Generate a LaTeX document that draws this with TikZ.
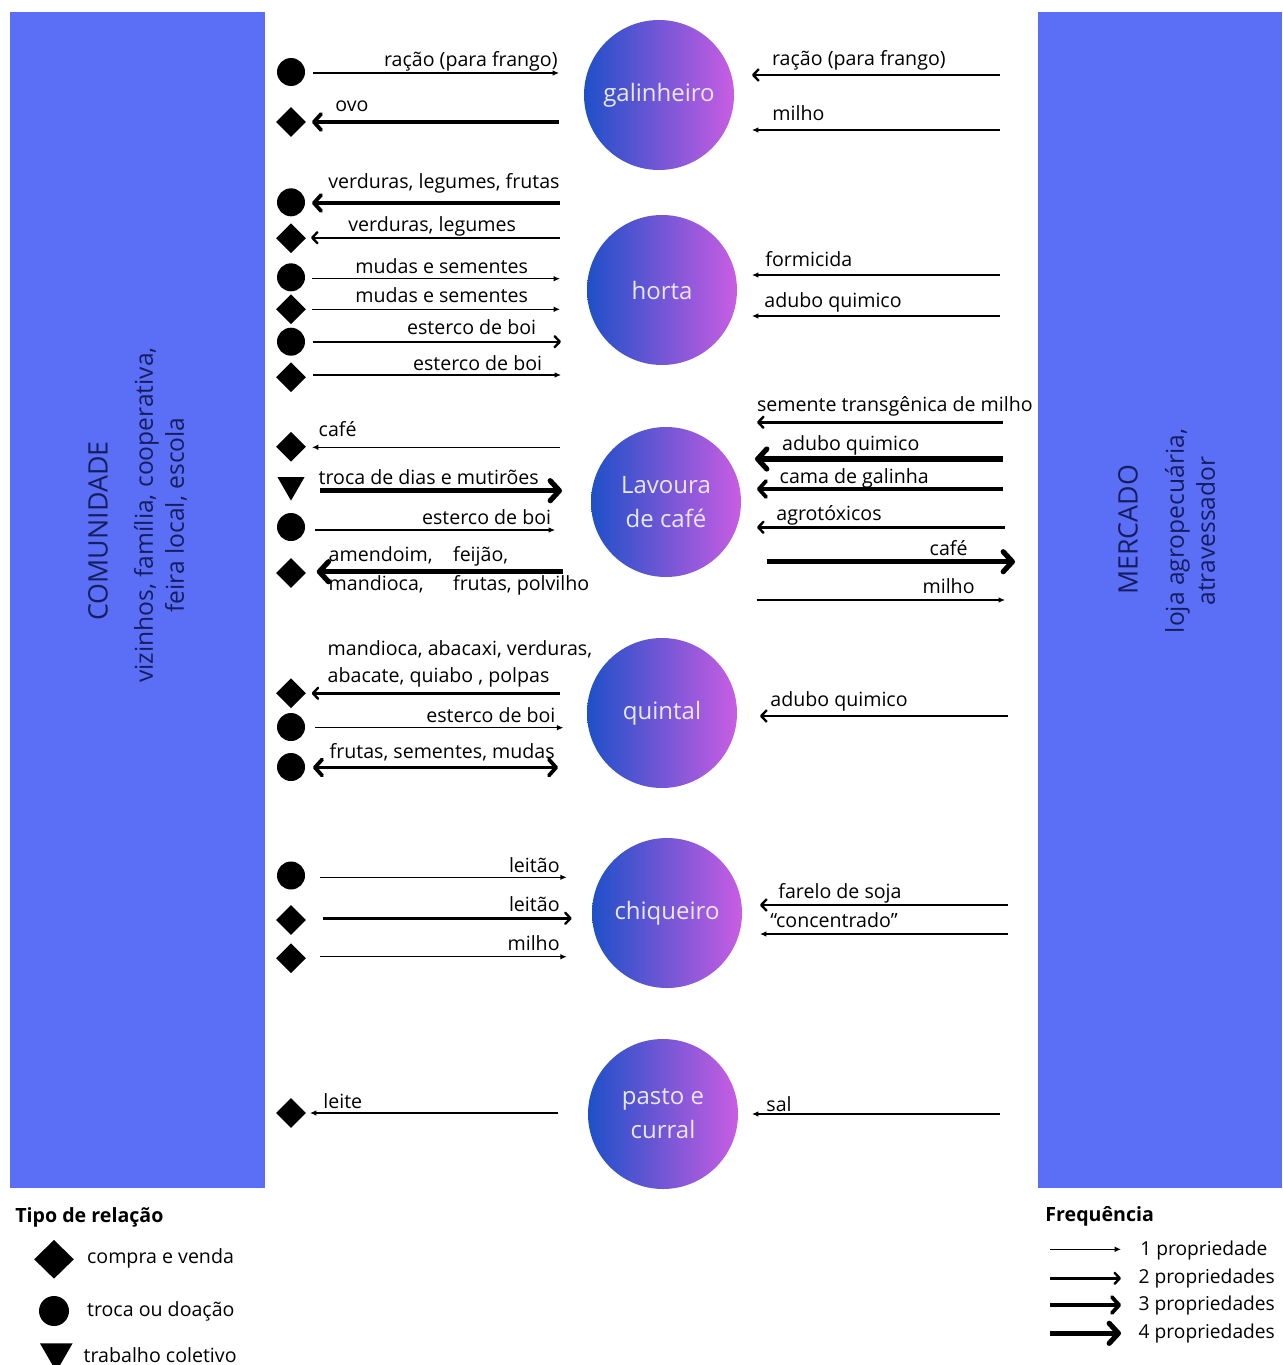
\documentclass[tikz,border=0pt]{standalone}
\usepackage{fontspec}
\setmainfont{Open Sans}
\usetikzlibrary{arrows.meta,shapes.geometric}
\definecolor{barblue}{HTML}{5A6FF6}
\definecolor{bartext}{HTML}{151D5E}
\definecolor{farmblue}{HTML}{1E50C8}
\definecolor{farmpink}{HTML}{C95DE3}
\definecolor{farmtext}{HTML}{E9E7FB}

\tikzset{
  lbl/.style={font=\fontsize{9.8}{14}\selectfont, inner sep=0pt, align=left},
  head/.style={font=\bfseries\fontsize{9.8}{14}\selectfont, inner sep=0pt},
  farm/.style={circle, minimum size=75pt, inner sep=0pt, left color=farmblue, right color=farmpink,
    text=farmtext, align=center, font=\fontsize{12}{17}\selectfont},
  cv/.style={diamond, fill=black, inner sep=0pt, minimum width=15pt, minimum height=15pt},
  td/.style={circle, fill=black, inner sep=0pt, minimum size=14pt},
  tc/.style={regular polygon, regular polygon sides=3, shape border rotate=180, fill=black,
    inner sep=0pt, minimum size=15.6pt},
  f1/.style={line width=0.55pt, >={Latex[length=3.2pt,width=2.8pt]}},
  f2/.style={line width=1.2pt, >={Straight Barb[length=2.6pt,width=5.5pt,round]}},
  f3/.style={line width=1.9pt, >={Straight Barb[length=3.6pt,width=8pt,round]}},
  f4/.style={line width=2.6pt, >={Straight Barb[length=4.6pt,width=10pt,round]}},
}

\begin{document}
\begin{tikzpicture}[x=0.5pt,y=-0.5pt]
\useasboundingbox (0,0) rectangle (1282,1365);

% comunidade / mercado
\fill[barblue] (10,12) rectangle (265,1188);
\fill[barblue] (1038,12) rectangle (1282,1188);
\node[rotate=90, text=bartext, font=\fontsize{13.4}{16}\selectfont] (com) at (98,531) {COMUNIDADE};
\node[rotate=90, text=bartext, align=center, font=\fontsize{12.3}{15.5}\selectfont] (comsub) at (160.5,515) {vizinhos, família, cooperativa,\\feira local, escola};
\node[rotate=90, text=bartext, font=\fontsize{13.4}{16}\selectfont] (mer) at (1128,530) {MERCADO};
\node[rotate=90, text=bartext, align=center, font=\fontsize{12.3}{15.5}\selectfont] (mersub) at (1190,531) {loja agropecuária,\\atravessador};

% subsistemas
\node[farm] (gal) at (659,95) {galinheiro};
\node[farm] (hor) at (662,290) {horta};
\node[farm] (lav) at (666,502) {Lavoura\\de café};
\node[farm] (qui) at (662,713) {quintal};
\node[farm] (chi) at (667,913) {chiqueiro};
\node[farm] (pas) at (663,1114) {pasto e\\curral};

% galinheiro
\node[td] (g1m) at (291,72) {};
\coordinate (g1s) at (313,73); \coordinate (g1e) at (559,73); \draw[f1,->] (g1s) -- (g1e);
\node[lbl,anchor=base east] (g1t) at (558,66.7) {ração (para frango)};
\node[cv] (g2m) at (291,122) {};
\coordinate (g2s) at (312,122); \coordinate (g2e) at (559,122); \draw[f3,<-] (g2s) -- (g2e);
\node[lbl,anchor=base west] (g2t) at (335,111.7) {ovo};
\coordinate (g3s) at (752,75); \coordinate (g3e) at (1000,75); \draw[f2,<-] (g3s) -- (g3e);
\node[lbl,anchor=base west] (g3t) at (771.7,65) {ração (para frango)};
\coordinate (g4s) at (752,130); \coordinate (g4e) at (1000,130); \draw[f1,<-] (g4s) -- (g4e);
\node[lbl,anchor=base west] (g4t) at (772,120) {milho};

% horta
\node[td] (h1m) at (291,202.3) {};
\coordinate (h1s) at (312,203); \coordinate (h1e) at (560,203); \draw[f3,<-] (h1s) -- (h1e);
\node[lbl,anchor=base east] (h1t) at (560,188.3) {verduras, legumes, frutas};
\node[cv] (h2m) at (291,238.3) {};
\coordinate (h2s) at (311,237.7); \coordinate (h2e) at (560,237.7); \draw[f2,<-] (h2s) -- (h2e);
\node[lbl,anchor=base west] (h2t) at (348,231.7) {verduras, legumes};
\node[td] (h3m) at (291,277.3) {};
\coordinate (h3s) at (312,278.7); \coordinate (h3e) at (560,278.7); \draw[f1,->] (h3s) -- (h3e);
\node[lbl,anchor=base west] (h3t) at (355,273.3) {mudas e sementes};
\node[cv] (h4m) at (291,309.3) {};
\coordinate (h4s) at (312,309.3); \coordinate (h4e) at (560,309.3); \draw[f1,->] (h4s) -- (h4e);
\node[lbl,anchor=base west] (h4t) at (355,302.7) {mudas e sementes};
\node[td] (h5m) at (291,341.7) {};
\coordinate (h5s) at (313,341.7); \coordinate (h5e) at (561,341.7); \draw[f2,->] (h5s) -- (h5e);
\node[lbl,anchor=base west] (h5t) at (406.7,334) {esterco de boi};
\node[cv] (h6m) at (291,377.3) {};
\coordinate (h6s) at (313,375); \coordinate (h6e) at (561,375); \draw[f1,->] (h6s) -- (h6e);
\node[lbl,anchor=base west] (h6t) at (412.7,370) {esterco de boi};
\coordinate (h7s) at (752,275); \coordinate (h7e) at (1000,275); \draw[f1,<-] (h7s) -- (h7e);
\node[lbl,anchor=base west] (h7t) at (765,266) {formicida};
\coordinate (h8s) at (752,316); \coordinate (h8e) at (1000,316); \draw[f1,<-] (h8s) -- (h8e);
\node[lbl,anchor=base west] (h8t) at (764,307) {adubo quimico};

% lavoura de cafe
\node[cv] (l1m) at (291,446.7) {};
\coordinate (l1s) at (312,447.3); \coordinate (l1e) at (560,447.3); \draw[f1,<-] (l1s) -- (l1e);
\node[lbl,anchor=base west] (l1t) at (318.3,436) {café};
\node[tc] (l2m) at (291,485) {};
\coordinate (l2s) at (320,490.7); \coordinate (l2e) at (562,490.7); \draw[f4,->] (l2s) -- (l2e);
\node[lbl,anchor=base west] (l2t) at (318.3,484) {troca de dias e mutirões};
\node[td] (l3m) at (291,527) {};
\coordinate (l3s) at (315,530); \coordinate (l3e) at (555,530); \draw[f1,->] (l3s) -- (l3e);
\node[lbl,anchor=base west] (l3t) at (421.7,524) {esterco de boi};
\node[cv] (l4m) at (291,573) {};
\coordinate (l4s) at (316.7,571.7); \coordinate (l4e) at (562.7,571.7); \draw[f4,<-] (l4s) -- (l4e);
\node[lbl,anchor=base west] (l4t) at (328.3,590) {amendoim,\\[0.2pt]mandioca,};
\node[lbl,anchor=base west] (l4u) at (452.7,590) {feijão,\\[0.2pt]frutas, polvilho};
\coordinate (l5s) at (757,422.3); \coordinate (l5e) at (1003,422.3); \draw[f2,<-] (l5s) -- (l5e);
\node[lbl,anchor=base west] (l5t) at (756.7,411.7) {semente transgênica de milho};
\coordinate (l6s) at (755,459); \coordinate (l6e) at (1003,459); \draw[f4,<-] (l6s) -- (l6e);
\node[lbl,anchor=base west] (l6t) at (781.7,450) {adubo quimico};
\coordinate (l7s) at (757,489); \coordinate (l7e) at (1003,489); \draw[f3,<-] (l7s) -- (l7e);
\node[lbl,anchor=base west] (l7t) at (779.3,483.3) {cama de galinha};
\coordinate (l8s) at (757,527.3); \coordinate (l8e) at (1005,527.3); \draw[f2,<-] (l8s) -- (l8e);
\node[lbl,anchor=base west] (l8t) at (776,520) {agrotóxicos};
\coordinate (l9s) at (766.7,561.7); \coordinate (l9e) at (1015,561.7); \draw[f4,->] (l9s) -- (l9e);
\node[lbl,anchor=base east] (l9t) at (968,555) {café};
\coordinate (l10s) at (756.7,600); \coordinate (l10e) at (1005,600); \draw[f1,->] (l10s) -- (l10e);
\node[lbl,anchor=base east] (l10t) at (975,593.3) {milho};

% quintal
\node[cv] (q1m) at (291,693.3) {};
\coordinate (q1s) at (311.7,693.3); \coordinate (q1e) at (560,693.3); \draw[f2,<-] (q1s) -- (q1e);
\node[lbl,anchor=base west] (q1t) at (327.3,682.7) {mandioca, abacaxi, verduras,\\[-0.6pt]abacate, quiabo , polpas};
\node[td] (q2m) at (291,727) {};
\coordinate (q2s) at (315,727.7); \coordinate (q2e) at (563.3,727.7); \draw[f1,->] (q2s) -- (q2e);
\node[lbl,anchor=base west] (q2t) at (426,722.7) {esterco de boi};
\node[td] (q3m) at (291,767) {};
\coordinate (q3s) at (313,767.5); \coordinate (q3e) at (558,767.5); \draw[f3,<->] (q3s) -- (q3e);
\node[lbl,anchor=base west] (q3t) at (329.3,758.3) {frutas, sementes, mudas};
\coordinate (q4s) at (760,716); \coordinate (q4e) at (1008,716); \draw[f2,<-] (q4s) -- (q4e);
\node[lbl,anchor=base west] (q4t) at (770,706) {adubo quimico};

% chiqueiro
\node[td] (c1m) at (291,875.5) {};
\coordinate (c1s) at (320,877.3); \coordinate (c1e) at (566.7,877.3); \draw[f1,->] (c1s) -- (c1e);
\node[lbl,anchor=base east] (c1t) at (560,872.7) {leitão};
\node[cv] (c2m) at (291,920) {};
\coordinate (c2s) at (323,918.3); \coordinate (c2e) at (571.7,918.3); \draw[f2,->] (c2s) -- (c2e);
\node[lbl,anchor=base east] (c2t) at (560,911.7) {leitão};
\node[cv] (c3m) at (291,958.3) {};
\coordinate (c3s) at (320,956.7); \coordinate (c3e) at (566.7,956.7); \draw[f1,->] (c3s) -- (c3e);
\node[lbl,anchor=base east] (c3t) at (560,950) {milho};
\coordinate (c4s) at (760,905); \coordinate (c4e) at (1008,905); \draw[f2,<-] (c4s) -- (c4e);
\node[lbl,anchor=base west] (c4t) at (778,898) {farelo de soja};
\coordinate (c5s) at (760,934); \coordinate (c5e) at (1008,934); \draw[f1,<-] (c5s) -- (c5e);
\node[lbl,anchor=base west] (c5t) at (770,927) {“concentrado”};

% pasto e curral
\node[cv] (p1m) at (291,1113) {};
\coordinate (p1s) at (310,1113); \coordinate (p1e) at (558,1113); \draw[f1,<-] (p1s) -- (p1e);
\node[lbl,anchor=base west] (p1t) at (323,1108) {leite};
\coordinate (p2s) at (752,1114); \coordinate (p2e) at (1000,1114); \draw[f1,<-] (p2s) -- (p2e);
\node[lbl,anchor=base west] (p2t) at (766,1111) {sal};

% legenda
\node[head,anchor=base west] (tipo) at (15,1222.3) {Tipo de relação};
\node[cv,minimum width=20pt,minimum height=19.5pt] (kcv) at (54,1259.3) {};
\node[lbl,anchor=base west] (kcvt) at (86.7,1263.3) {compra e venda};
\node[td,minimum size=15pt] (ktd) at (54,1311) {};
\node[lbl,anchor=base west] (ktdt) at (86.7,1316) {troca ou doação};
\node[tc,minimum size=18.9pt] (ktc) at (56.3,1352.7) {};
\node[lbl,anchor=base west] (ktct) at (83.3,1362.7) {trabalho coletivo};

\node[head,anchor=base west] (freq) at (1045,1221.7) {Frequência};
\coordinate (k1s) at (1050,1249.3); \coordinate (k1e) at (1121,1249.3); \draw[f1,->] (k1s) -- (k1e);
\node[lbl,anchor=base west,font=\fontsize{9.6}{14}\selectfont] (k1t) at (1140,1255) {1 propriedade};
\coordinate (k2s) at (1050,1278.3); \coordinate (k2e) at (1121,1278.3); \draw[f2,->] (k2s) -- (k2e);
\node[lbl,anchor=base west,font=\fontsize{9.6}{14}\selectfont] (k2t) at (1138.3,1283.3) {2 propriedades};
\coordinate (k3s) at (1050,1305); \coordinate (k3e) at (1121,1305); \draw[f3,->] (k3s) -- (k3e);
\node[lbl,anchor=base west,font=\fontsize{9.6}{14}\selectfont] (k3t) at (1138.3,1310) {3 propriedades};
\coordinate (k4s) at (1050,1333.3); \coordinate (k4e) at (1121,1333.3); \draw[f4,->] (k4s) -- (k4e);
\node[lbl,anchor=base west,font=\fontsize{9.6}{14}\selectfont] (k4t) at (1138.3,1338.3) {4 propriedades};
\end{tikzpicture}
\end{document}
